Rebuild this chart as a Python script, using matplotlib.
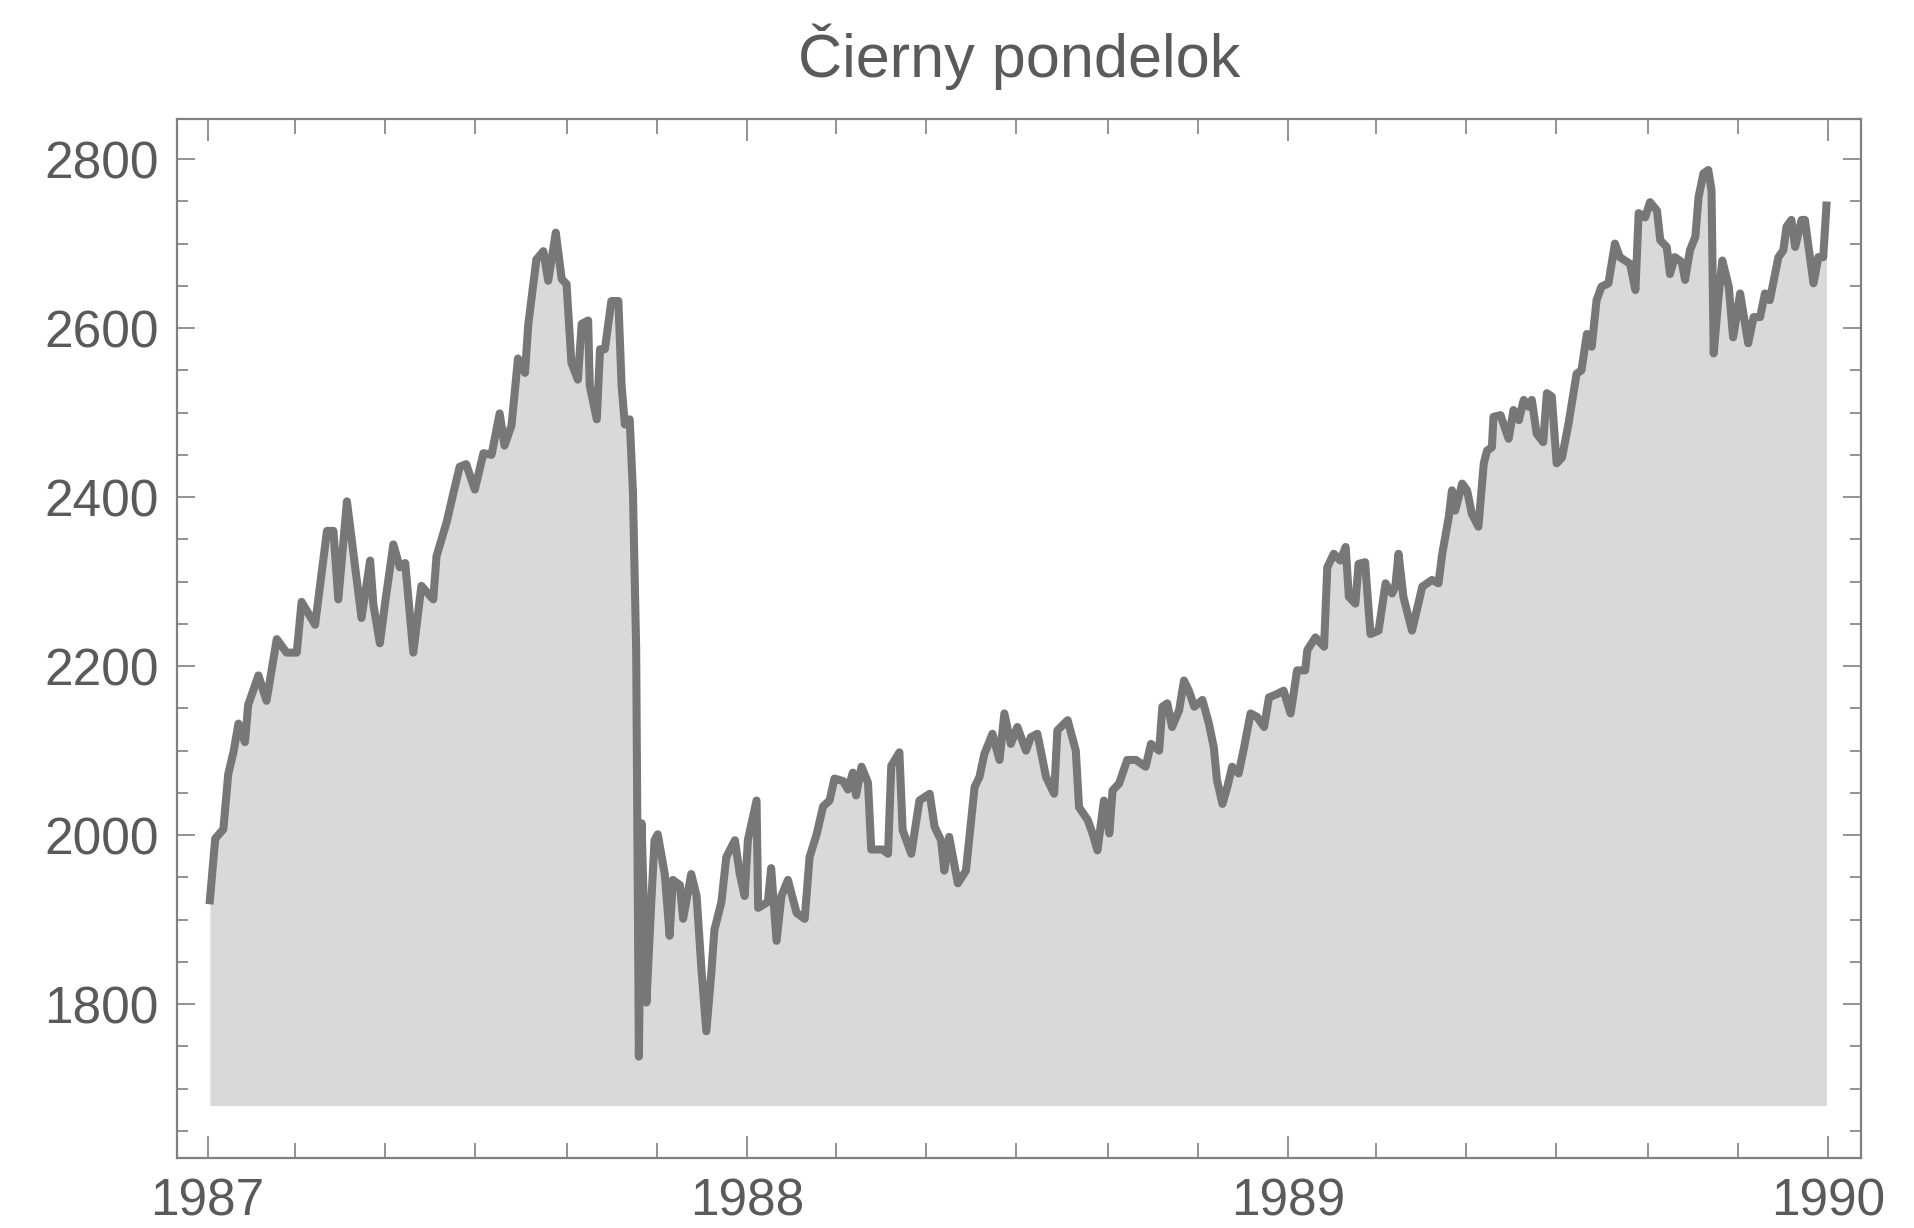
import matplotlib
matplotlib.use('Agg')
import matplotlib.pyplot as plt
import matplotlib.dates as mdates
from datetime import datetime

plt.rcParams['font.family'] = ['Liberation Sans', 'DejaVu Sans']

# decimal year of each sample
t_year = [
    1987.004, 1987.014, 1987.029, 1987.038, 1987.048, 1987.057, 1987.069, 1987.075,
    1987.094, 1987.109, 1987.128, 1987.146, 1987.165, 1987.174, 1987.199, 1987.221,
    1987.233, 1987.242, 1987.258, 1987.285, 1987.301, 1987.307, 1987.319, 1987.329,
    1987.344, 1987.356, 1987.366, 1987.381, 1987.396, 1987.418, 1987.424, 1987.443,
    1987.455, 1987.467, 1987.479, 1987.495, 1987.511, 1987.526, 1987.541, 1987.550,
    1987.563, 1987.575, 1987.588, 1987.594, 1987.609, 1987.622, 1987.631, 1987.645,
    1987.656, 1987.665, 1987.674, 1987.686, 1987.693, 1987.705, 1987.708, 1987.721,
    1987.727, 1987.736, 1987.748, 1987.761, 1987.767, 1987.773, 1987.782, 1987.788,
    1987.794, 1987.799, 1987.804, 1987.813, 1987.822, 1987.828, 1987.834, 1987.847,
    1987.856, 1987.862, 1987.875, 1987.881, 1987.896, 1987.906, 1987.915, 1987.924,
    1987.933, 1987.939, 1987.952, 1987.961, 1987.977, 1987.986, 1987.995,
    1988.001, 1988.017, 1988.020, 1988.038, 1988.044, 1988.054, 1988.063, 1988.075,
    1988.091, 1988.106, 1988.115, 1988.128, 1988.140, 1988.152, 1988.161, 1988.177,
    1988.186, 1988.195, 1988.201, 1988.211, 1988.223, 1988.229, 1988.250, 1988.260,
    1988.266, 1988.281, 1988.287, 1988.303, 1988.318, 1988.337, 1988.346, 1988.358,
    1988.364, 1988.373, 1988.389, 1988.404, 1988.420, 1988.429, 1988.438, 1988.453,
    1988.466, 1988.475, 1988.487, 1988.499, 1988.515, 1988.524, 1988.536, 1988.552,
    1988.567, 1988.573, 1988.592, 1988.607, 1988.613, 1988.629, 1988.638, 1988.647,
    1988.659, 1988.669, 1988.675, 1988.687, 1988.702, 1988.718, 1988.736, 1988.746,
    1988.761, 1988.767, 1988.776, 1988.785, 1988.798, 1988.807, 1988.816, 1988.826,
    1988.841, 1988.853, 1988.862, 1988.868, 1988.878, 1988.887, 1988.896, 1988.908,
    1988.918, 1988.930, 1988.942, 1988.955, 1988.964, 1988.979, 1988.991,
    1989.004, 1989.016, 1989.031, 1989.035, 1989.050, 1989.066, 1989.072, 1989.084,
    1989.096, 1989.106, 1989.112, 1989.124, 1989.130, 1989.142, 1989.152, 1989.167,
    1989.180, 1989.192, 1989.198, 1989.204, 1989.213, 1989.229, 1989.248, 1989.266,
    1989.278, 1989.285, 1989.297, 1989.303, 1989.309, 1989.322, 1989.331, 1989.340,
    1989.352, 1989.362, 1989.368, 1989.377, 1989.380, 1989.393, 1989.408, 1989.417,
    1989.427, 1989.436, 1989.445, 1989.451, 1989.460, 1989.472, 1989.479, 1989.488,
    1989.497, 1989.507, 1989.519, 1989.534, 1989.543, 1989.553, 1989.562, 1989.571,
    1989.580, 1989.593, 1989.605, 1989.614, 1989.633, 1989.643, 1989.649, 1989.661,
    1989.670, 1989.683, 1989.689, 1989.701, 1989.707, 1989.716, 1989.729, 1989.735,
    1989.744, 1989.754, 1989.760, 1989.769, 1989.778, 1989.784, 1989.788, 1989.797,
    1989.804, 1989.816, 1989.824, 1989.837, 1989.852, 1989.862, 1989.874, 1989.883,
    1989.892, 1989.908, 1989.917, 1989.923, 1989.932, 1989.939, 1989.951, 1989.957,
    1989.973, 1989.982, 1989.991, 1989.997,
]

# index level (Dow Jones), same order
dow = [
    1923, 1996, 2007, 2072, 2099, 2132, 2110, 2154,
    2189, 2159, 2232, 2216, 2216, 2276, 2249, 2360,
    2360, 2279, 2395, 2257, 2325, 2273, 2227, 2276,
    2344, 2317, 2322, 2216, 2295, 2279, 2330, 2371,
    2404, 2436, 2439, 2409, 2452, 2450, 2499, 2461,
    2485, 2564, 2547, 2604, 2681, 2691, 2656, 2713,
    2658, 2652, 2559, 2539, 2605, 2609, 2532, 2492,
    2575, 2575, 2632, 2632, 2532, 2486, 2492, 2406,
    2220, 1738, 2014, 1802, 1921, 1994, 2001, 1954,
    1881, 1947, 1941, 1901, 1954, 1928, 1841, 1768,
    1835, 1888, 1921, 1974, 1994, 1954, 1928,
    1994, 2041, 1914, 1921, 1961, 1875, 1928, 1947,
    1908, 1901, 1974, 2001, 2034, 2041, 2067, 2064,
    2054, 2074, 2047, 2081, 2062, 1983, 1983, 1978,
    2082, 2098, 2006, 1978, 2041, 2049, 2010, 1994,
    1958, 1998, 1943, 1958, 2057, 2069, 2096, 2120,
    2089, 2144, 2108, 2128, 2100, 2116, 2120, 2069,
    2049, 2124, 2136, 2100, 2033, 2018, 2002, 1982,
    2041, 2002, 2053, 2061, 2089, 2089, 2081, 2108,
    2100, 2152, 2156, 2128, 2148, 2183, 2171, 2152,
    2160, 2132, 2104, 2065, 2037, 2057, 2081, 2073,
    2104, 2144, 2140, 2128, 2163, 2167, 2171,
    2144, 2195, 2195, 2219, 2234, 2223, 2317, 2333,
    2325, 2341, 2282, 2274, 2321, 2323, 2238, 2242,
    2298, 2286, 2294, 2333, 2282, 2242, 2294, 2302,
    2298, 2333, 2376, 2408, 2384, 2416, 2408, 2380,
    2365, 2440, 2455, 2459, 2495, 2497, 2469, 2503,
    2491, 2515, 2507, 2515, 2475, 2465, 2523, 2519,
    2440, 2447, 2487, 2546, 2550, 2593, 2578, 2633,
    2649, 2653, 2700, 2684, 2676, 2645, 2736, 2731,
    2749, 2739, 2704, 2696, 2664, 2684, 2678, 2657,
    2692, 2708, 2755, 2783, 2787, 2763, 2570, 2637,
    2680, 2649, 2589, 2641, 2582, 2613, 2613, 2641,
    2633, 2684, 2692, 2720, 2728, 2696, 2728, 2728,
    2653, 2684, 2684, 2745,
]

fill_base = 1680
title = 'Čierny pondelok'


def to_date(t):
    y = int(t)
    a, b = datetime(y, 1, 1), datetime(y + 1, 1, 1)
    return a + (b - a) * (t - y)


dates = [to_date(t) for t in t_year]

fig = plt.figure(figsize=(19.15, 12.28), dpi=100)
ax = fig.add_axes([0.0924, 0.057, 0.8794, 0.8465])

ax.fill_between(dates, fill_base, dow, color='#d9d9d9', linewidth=0, zorder=1)
ax.plot(dates, dow, color='#777777', lw=5.8, solid_joinstyle='round', zorder=2)

ax.set_xlim(to_date(1986.943), to_date(1990.061))
ax.set_ylim(1618, 2848)

ax.xaxis.set_major_locator(mdates.YearLocator())
ax.xaxis.set_minor_locator(mdates.MonthLocator(bymonth=[3, 5, 7, 9, 11]))
ax.xaxis.set_major_formatter(mdates.DateFormatter('%Y'))
ax.set_yticks([1800, 2000, 2200, 2400, 2600, 2800])
ax.set_yticks(range(1650, 2850, 50), minor=True)

grey = '#808080'
for s in ax.spines.values():
    s.set_color(grey)
    s.set_linewidth(1.6)

ax.tick_params(which='both', direction='in', top=True, right=True,
               color=grey, width=1.2, labelcolor='#5a5a5a', labelsize=37)
ax.tick_params(axis='x', which='major', length=16, pad=14)
ax.tick_params(axis='x', which='minor', length=11)
ax.tick_params(axis='y', which='major', length=13, pad=13)
ax.tick_params(axis='y', which='minor', length=8)

ax.set_title(title, fontsize=44, color='#5a5a5a', pad=30)

fig.savefig('out.png', dpi=100)
